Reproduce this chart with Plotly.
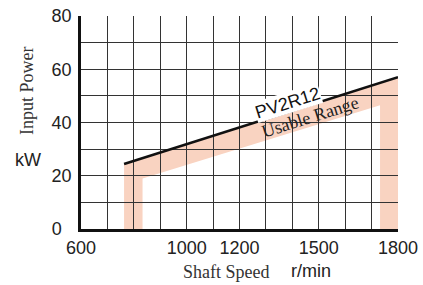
import plotly.graph_objects as go

# data
band_x = [763, 763, 1800, 1800, 1732, 1732, 833, 833, 763]
band_y = [0, 24.4, 57, 0, 0, 46.5, 19, 0, 0]
line_x = [763, 1800]
line_y = [24.4, 57]

x_grid = list(range(600, 1801, 100))
x_labels = {600: "600", 1000: "1000", 1200: "1200", 1500: "1500", 1800: "1800"}
y_grid = list(range(0, 81, 10))
y_labels = {0: "0\u00a0\u00a0", 20: "20", 40: "40", 60: "60", 80: "80"}

SANS = "Liberation Sans, Arial, sans-serif"
SERIF = "Liberation Serif, Times New Roman, serif"

fig = go.Figure()
fig.add_trace(go.Scatter(x=band_x, y=band_y, fill="toself", fillcolor="#f9d3c1",
                         line=dict(width=0), mode="lines", xaxis="x", yaxis="y",
                         hoverinfo="skip", showlegend=False))
fig.add_trace(go.Scatter(x=line_x, y=line_y, mode="lines",
                         line=dict(color="#111111", width=2.6), xaxis="x2", yaxis="y2",
                         showlegend=False))

fig.update_layout(
    width=423, height=285,
    margin=dict(l=81, r=25, t=16, b=56, autoexpand=False),
    paper_bgcolor="white", plot_bgcolor="rgba(0,0,0,0)",
    showlegend=False,
    xaxis=dict(range=[600, 1800], visible=False, domain=[0, 1], anchor="y", automargin=False),
    yaxis=dict(range=[0, 80], visible=False, domain=[0, 1], anchor="x", automargin=False),
    xaxis2=dict(range=[600, 1800], domain=[0, 1], anchor="y2", automargin=False,
                tickvals=x_grid, ticktext=[x_labels.get(v, "") for v in x_grid],
                showgrid=True, gridcolor="#333333", gridwidth=1,
                showline=True, linecolor="#111111", linewidth=2.5,
                ticks="", zeroline=False, ticklabelstandoff=1,
                tickfont=dict(family=SANS, size=18, color="#222222")),
    yaxis2=dict(range=[0, 80], domain=[0, 1], anchor="x2", automargin=False,
                tickvals=y_grid, ticktext=[y_labels.get(v, "") for v in y_grid],
                showgrid=True, gridcolor="#333333", gridwidth=1,
                showline=True, linecolor="#111111", linewidth=2.5,
                ticks="", zeroline=False, ticklabelstandoff=3,
                tickfont=dict(family=SANS, size=18, color="#222222")),
)

ann = [
    dict(text="PV2R12", x=1380, y=47.5, xref="x2", yref="y2", showarrow=False,
         textangle=-17.5, font=dict(family=SANS, size=18, color="#111111"),
         bgcolor="white", borderpad=0),
    dict(text="Usable Range", x=1467, y=41.9, xref="x2", yref="y2", showarrow=False,
         textangle=-17.5, font=dict(family=SERIF, size=18, color="#222222")),
    dict(text="Input Power", x=27, y=91, showarrow=False,
         textangle=-90, font=dict(family=SERIF, size=18, color="#333333")),
    dict(text="kW", x=28, y=160, showarrow=False,
         font=dict(family=SANS, size=18, color="#222222")),
    dict(text="Shaft Speed", x=226, y=272, showarrow=False,
         font=dict(family=SERIF, size=18, color="#333333")),
    dict(text="r/min", x=311, y=271, showarrow=False,
         font=dict(family=SANS, size=18, color="#222222")),
]
# convert pixel positions of axis titles to paper coordinates
W, H, L, R, T, B = 423, 285, 81, 25, 16, 56
pw, ph = W - L - R, H - T - B
for a in ann[2:]:
    a["xref"] = "paper"; a["yref"] = "paper"
    a["x"] = (a["x"] - L) / pw
    a["y"] = (H - B - a["y"]) / ph
    a["xanchor"] = "center"; a["yanchor"] = "middle"
fig.update_layout(annotations=ann)

fig.write_html("out.html", config={"displayModeBar": False},
               post_script="document.body.style.margin='0';")
